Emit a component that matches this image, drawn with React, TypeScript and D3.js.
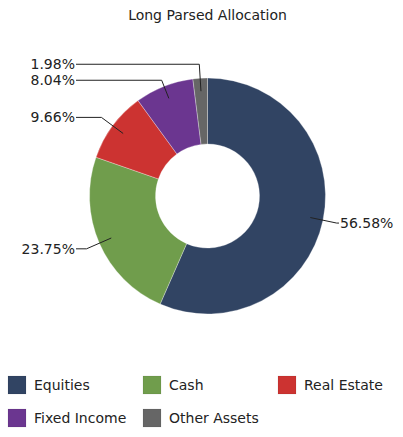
import React, { useRef, useEffect } from 'react';
import * as d3 from 'd3';

const WIDTH = 403;
const HEIGHT = 437;
const TITLE = 'Long Parsed Allocation';

const categories = ['Equities', 'Cash', 'Real Estate', 'Fixed Income', 'Other Assets'];
const values = [56.58, 23.75, 9.66, 8.04, 1.98];
const colors = ['#314463', '#709d4c', '#cc3331', '#6b3690', '#666666'];

const cx = 207.5;
const cy = 196;
const outerR = 118;
const innerR = 52;
const LABEL_GAP = 16;

const App = () => {
  const svgRef = useRef<SVGSVGElement>(null);

  useEffect(() => {
    const svg = d3.select(svgRef.current);
    svg.selectAll('*').remove();

    const data = categories.map((c, i) => ({ name: c, value: values[i], color: colors[i] }));

    svg.append('text')
      .attr('x', cx)
      .attr('y', 20)
      .attr('text-anchor', 'middle')
      .attr('font-size', 14)
      .attr('fill', '#222')
      .text(TITLE);

    const pie = d3.pie<any>().sort(null).value(d => d.value);
    const arcs = pie(data);
    const arc = d3.arc<any>().innerRadius(innerR).outerRadius(outerR);

    const g = svg.append('g').attr('transform', `translate(${cx},${cy})`);

    g.selectAll('path.slice')
      .data(arcs)
      .enter()
      .append('path')
      .attr('class', 'slice')
      .attr('d', arc)
      .attr('fill', d => d.data.color)
      .attr('stroke', 'rgba(255,255,255,0.5)')
      .attr('stroke-width', 0.6);

    // label placement: natural spot just outside the ring, then push apart
    const labels = arcs.map(a => {
      const mid = (a.startAngle + a.endAngle) / 2;
      const s = Math.sin(mid);
      const c = -Math.cos(mid);
      return {
        text: d3.format('.2f')(a.data.value) + '%',
        s, c,
        left: s < 0,
        y: c * (outerR + 14),
      };
    });

    [true, false].forEach(side => {
      const group = labels.filter(l => l.left === side).sort((a, b) => a.y - b.y);
      for (let i = 1; i < group.length; i++) {
        if (group[i].y - group[i - 1].y < LABEL_GAP) group[i].y = group[i - 1].y + LABEL_GAP;
      }
    });

    const colX = outerR + 13.5;
    labels.forEach(l => {
      const r0 = 105;
      let rE = l.y / l.c;
      if (!isFinite(rE) || rE < r0) rE = r0;
      const x0 = l.s * r0;
      const y0 = l.c * r0;
      const xE = l.s * rE;
      const xEnd = l.left ? -colX : colX;

      g.append('path')
        .attr('d', `M${x0},${y0}L${xE},${l.y}L${xEnd},${l.y}`)
        .attr('fill', 'none')
        .attr('stroke', '#222')
        .attr('stroke-width', 1);

      g.append('text')
        .attr('x', l.left ? xEnd - 1 : xEnd + 1)
        .attr('y', l.y)
        .attr('dy', '0.36em')
        .attr('text-anchor', l.left ? 'end' : 'start')
        .attr('font-size', 14)
        .attr('fill', '#222')
        .text(l.text);
    });

    // legend, three columns
    const legend = svg.append('g');
    data.forEach((d, i) => {
      const col = i % 3;
      const row = Math.floor(i / 3);
      const item = legend.append('g')
        .attr('transform', `translate(${8 + col * 135},${376 + row * 33})`);
      item.append('rect')
        .attr('width', 18)
        .attr('height', 18)
        .attr('fill', d.color)
        .attr('stroke', 'rgba(0,0,0,0.15)')
        .attr('stroke-width', 0.5);
      item.append('text')
        .attr('x', 26)
        .attr('y', 9)
        .attr('dy', '0.36em')
        .attr('font-size', 14)
        .attr('fill', '#222')
        .text(d.name);
    });
  }, []);

  return (
    <svg
      ref={svgRef}
      width={WIDTH}
      height={HEIGHT}
      style={{ position: 'absolute', left: 0, top: 0, background: '#fff', fontFamily: '"DejaVu Sans", sans-serif' }}
    />
  );
};

export default App;
